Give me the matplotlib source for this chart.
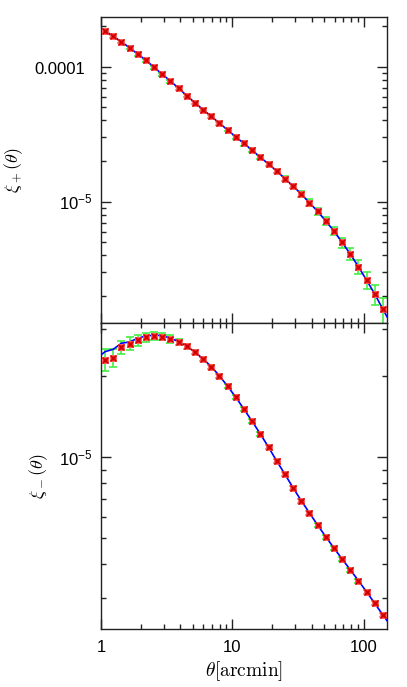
import numpy as np
import matplotlib
matplotlib.use("Agg")
import matplotlib.pyplot as plt
import matplotlib.transforms as mtrans
from matplotlib.ticker import LogLocator, FixedLocator, FixedFormatter, NullFormatter

plt.rcParams['font.family'] = ['Liberation Sans', 'DejaVu Sans']
plt.rcParams['mathtext.fontset'] = 'cm'

# bin centres [arcmin]
theta = [1.074, 1.240, 1.430, 1.651, 1.905, 2.198, 2.536, 2.926, 3.377, 3.896,
         4.496, 5.188, 5.987, 6.908, 7.971, 9.198, 10.61, 12.25, 14.13, 16.31,
         18.82, 21.71, 25.06, 28.91, 33.36, 38.50, 44.42, 51.26, 59.15, 68.26,
         78.76, 90.89, 104.9, 121.0, 139.6]

# xi_+ measurements
xip = [1.848e-4, 1.680e-4, 1.532e-4, 1.382e-4, 1.242e-4, 1.115e-4, 9.90e-5, 8.78e-5,
       7.83e-5, 6.92e-5, 6.10e-5, 5.41e-5, 4.80e-5, 4.29e-5, 3.81e-5, 3.40e-5,
       3.015e-5, 2.70e-5, 2.403e-5, 2.133e-5, 1.902e-5, 1.688e-5, 1.481e-5, 1.307e-5,
       1.140e-5, 9.83e-6, 8.49e-6, 7.19e-6, 6.07e-6, 5.00e-6, 4.10e-6, 3.30e-6,
       2.62e-6, 2.07e-6, 1.596e-6]
xip_err_pct = [2.6, 2.6, 2.6, 2.6, 2.6, 2.6, 2.6, 2.6, 2.6, 2.6, 2.6, 2.6, 2.6, 2.6,
               2.6, 2.6, 2.6, 3.5, 3.5, 3.5, 3.5, 3.5, 4.0, 4.0, 4.7, 5.8, 6.5, 6.7,
               7.4, 8.5, 10.4, 11.3, 14.2, 16.6, 22.1]

# xi_- measurements
xim = [2.300e-5, 2.346e-5, 2.564e-5, 2.645e-5, 2.722e-5, 2.793e-5, 2.817e-5, 2.807e-5,
       2.752e-5, 2.683e-5, 2.585e-5, 2.462e-5, 2.318e-5, 2.172e-5, 2.006e-5, 1.836e-5,
       1.671e-5, 1.508e-5, 1.360e-5, 1.221e-5, 1.090e-5, 9.69e-6, 8.65e-6, 7.71e-6,
       6.90e-6, 6.22e-6, 5.60e-6, 5.07e-6, 4.60e-6, 4.19e-6, 3.82e-6, 3.48e-6,
       3.16e-6, 2.865e-6, 2.593e-6]
xim_err_pct = [9.4, 7.7, 5.9, 5.5, 4.6, 3.9, 3.3, 3.2, 3.3, 2.6, 2.2, 1.7, 1.7, 1.7,
               1.7, 1.7, 1.7, 1.7, 1.7, 1.7, 1.7, 1.7, 1.7, 1.7, 1.7, 1.7, 1.7, 1.7,
               1.7, 1.7, 1.7, 1.7, 1.7, 1.7, 1.7]

# model curves
theta_model = [1.0] + theta + [150.0]
xip_model = [1.925e-4] + xip + [1.404e-6]
xim_model = [2.40e-5, 2.469e-5, 2.520e-5, 2.653e-5, 2.683e-5, 2.769e-5, 2.824e-5,
             2.841e-5, 2.831e-5, 2.769e-5, 2.690e-5] + xim[10:] + [2.47e-6]

x_ticks = [1, 10, 100]
x_ticklabels = ['1', '10', '100']
top_yticks = [1e-5, 1e-4]
top_yticklabels = [r'$\mathregular{10^{-5}}$', '0.0001']
bot_yticks = [1e-5]
bot_yticklabels = [r'$\mathregular{10^{-5}}$']

W, H = 407, 687
fig = plt.figure(figsize=(W / 100, H / 100), dpi=100)
L, R = 101, 387
ax1 = fig.add_axes([L / W, 1 - 323 / H, (R - L) / W, 306 / H])
ax2 = fig.add_axes([L / W, 1 - 629 / H, (R - L) / W, 306 / H])

green = '#44ee44'
for ax, y, pct, ym in [(ax1, xip, xip_err_pct, xip_model), (ax2, xim, xim_err_pct, xim_model)]:
    y = np.array(y)
    err = y * np.array(pct) / 100.0
    ax.errorbar(theta, y, yerr=err, fmt='none', ecolor=green, elinewidth=1.2,
                capsize=2.6, capthick=1.2, zorder=2)
    ax.plot(theta_model, ym, color='#0000ff', lw=1.2, zorder=3)
    ax.plot(theta, y, ls='none', marker='s', ms=4.3, mfc='#ff2020', mec='#ff6060',
            mew=0.6, zorder=4)
    ax.plot(theta, y, ls='none', marker='x', ms=3.8, mec='#cc0000', mew=1.0, zorder=5)
    ax.set_xscale('log')
    ax.set_yscale('log')
    ax.set_xlim(1, 150)
    ax.xaxis.set_major_locator(FixedLocator(x_ticks))
    ax.xaxis.set_minor_locator(LogLocator(base=10, subs=np.arange(2, 10), numticks=20))
    ax.yaxis.set_minor_locator(LogLocator(base=10, subs=np.arange(2, 10), numticks=20))
    ax.yaxis.set_minor_formatter(NullFormatter())
    ax.xaxis.set_minor_formatter(NullFormatter())
    ax.yaxis.set_major_formatter(NullFormatter())
    ax.tick_params(which='both', direction='in', top=True, right=True, width=1.0,
                   color='#222222', labelsize=12)
    ax.tick_params(which='major', length=7.5)
    ax.tick_params(which='minor', length=3.6)
    for s in ax.spines.values():
        s.set_linewidth(1.0)
        s.set_color('#222222')

ax1.set_ylim(1.262e-6, 2.335e-4)
ax2.set_ylim(2.30e-6, 3.155e-5)

ax1.yaxis.set_major_locator(FixedLocator(top_yticks))
ax2.yaxis.set_major_locator(FixedLocator(bot_yticks))

def ylabels(ax, ticks, labels):
    for t, lab in zip(ticks, labels):
        dx = -16 if lab == '0.0001' else -9
        dy = -3 if lab == '0.0001' else -1
        tr = mtrans.offset_copy(ax.get_yaxis_transform(), fig=fig, x=dx, y=dy, units='dots')
        ax.text(0, t, lab, transform=tr, ha='right', va='center', fontsize=12)

ylabels(ax1, top_yticks, top_yticklabels)
ylabels(ax2, bot_yticks, bot_yticklabels)

ax1.tick_params(axis='x', labelbottom=False)
ax2.xaxis.set_major_formatter(FixedFormatter(x_ticklabels))
ax2.tick_params(axis='x', pad=8)

ax1.set_ylabel(r'$\xi_+(\theta)$', fontsize=13)
ax2.set_ylabel(r'$\xi_-(\theta)$', fontsize=13)
ax1.yaxis.set_label_coords((25 - L) / (R - L), 0.5)
ax2.yaxis.set_label_coords((50 - L) / (R - L), 0.5)
ax2.set_xlabel(r'$\theta[\mathrm{arcmin}]$', fontsize=14, labelpad=3)

fig.savefig('out.png', dpi=100)
